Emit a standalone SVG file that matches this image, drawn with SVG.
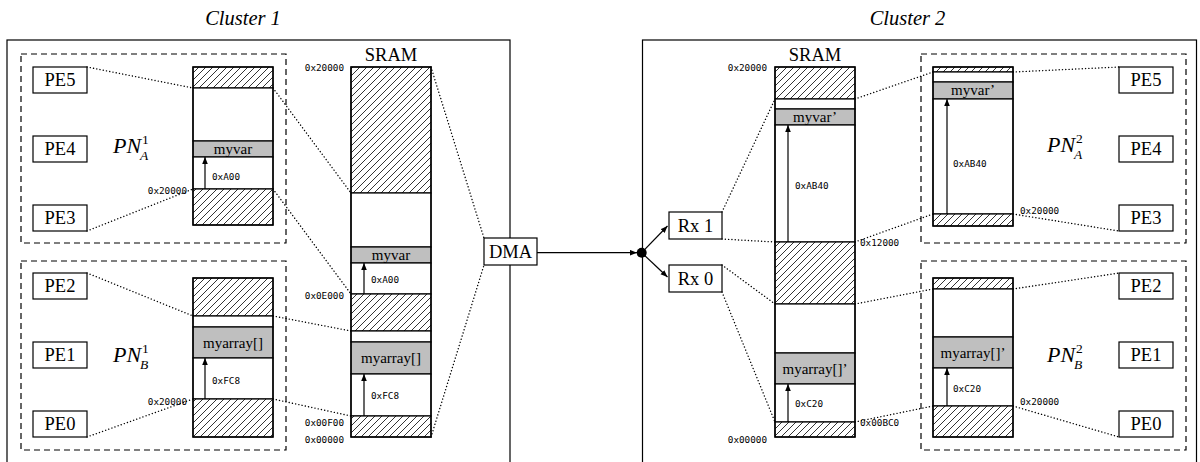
<svg xmlns="http://www.w3.org/2000/svg" width="1200" height="462" viewBox="0 0 1200 462">
<style>
.outer{fill:none;stroke:#000;stroke-width:1.2}
.dash{fill:none;stroke:#000;stroke-width:1.2;stroke-dasharray:6,4}
.box{fill:#fff;stroke:#000;stroke-width:1.2}
.col{fill:none;stroke:#000;stroke-width:1.4}
.hat{fill:url(#hatch);stroke:#000;stroke-width:1.2}
.wht{fill:#fff;stroke:#000;stroke-width:1.2}
.gry{fill:#bfbfbf;stroke:#000;stroke-width:1.2}
.dot{fill:none;stroke:#000;stroke-width:1.4;stroke-dasharray:0.1,3.2;stroke-linecap:round}
.arr{fill:none;stroke:#000;stroke-width:1.2;marker-end:url(#ah)}
.t{font-family:'Liberation Serif','Times New Roman',Times,serif;font-size:18.5px;fill:#000;text-anchor:middle}
.tl{font-family:'Liberation Serif','Times New Roman',Times,serif;font-size:15px;fill:#000;text-anchor:middle}
.ti{font-family:'Liberation Serif','Times New Roman',Times,serif;font-size:20.5px;font-style:italic;fill:#000;text-anchor:middle}
.pn{font-family:'Liberation Serif','Times New Roman',Times,serif;font-size:22px;font-style:italic;fill:#000}
.sb{font-family:'Liberation Serif','Times New Roman',Times,serif;font-size:13.5px;font-style:italic;fill:#000}
.sp{font-family:'Liberation Serif','Times New Roman',Times,serif;font-size:13.5px;fill:#000}
.m{font-family:'DejaVu Sans Mono',monospace;font-size:9.3px;fill:#000}
.r{text-anchor:end}
</style>
<defs>
<pattern id="hatch" patternUnits="userSpaceOnUse" width="7" height="7">
<rect width="7" height="7" fill="#fff"/>
<path d="M-1,1 L1,-1 M0,7 L7,0 M6,8 L8,6" stroke="#000" stroke-width="0.8"/>
</pattern>
<marker id="ah" viewBox="0 0 10 8" refX="10" refY="4" markerWidth="7" markerHeight="6" markerUnits="userSpaceOnUse" orient="auto">
<path d="M0,0 L10,4 L0,8 Z" fill="#000"/>
</marker>
</defs>
<rect width="1200" height="462" fill="#fff"/>

<g id="cluster1">
<rect class="outer" x="7" y="40" width="503" height="440"/>
<text class="ti" x="243" y="25">Cluster 1</text>
</g>
<g id="cluster2">
<rect class="outer" x="642.5" y="40" width="554" height="440"/>
<text class="ti" x="907.5" y="25">Cluster 2</text>
</g>

<g id="connectors">
<line class="dot" x1="87" y1="67" x2="193" y2="88"/>
<line class="dot" x1="87" y1="231" x2="193" y2="189"/>
<line class="dot" x1="87" y1="273" x2="193" y2="316"/>
<line class="dot" x1="87" y1="437" x2="193" y2="399"/>
<line class="dot" x1="273" y1="88" x2="351" y2="193"/>
<line class="dot" x1="273" y1="189" x2="351" y2="294"/>
<line class="dot" x1="273" y1="316" x2="351" y2="331"/>
<line class="dot" x1="273" y1="399" x2="351" y2="416"/>
<line class="dot" x1="431" y1="67" x2="484" y2="238"/>
<line class="dot" x1="431" y1="437" x2="484" y2="265"/>
<line class="dot" x1="722" y1="212" x2="775" y2="99"/>
<line class="dot" x1="722" y1="239" x2="775" y2="242"/>
<line class="dot" x1="722" y1="265" x2="775" y2="304"/>
<line class="dot" x1="722" y1="292" x2="775" y2="422"/>
<line class="dot" x1="855" y1="99" x2="933" y2="72"/>
<line class="dot" x1="855" y1="242" x2="933" y2="214"/>
<line class="dot" x1="855" y1="304" x2="933" y2="289"/>
<line class="dot" x1="855" y1="422" x2="933" y2="406"/>
<line class="dot" x1="1013" y1="72" x2="1119" y2="67"/>
<line class="dot" x1="1013" y1="214" x2="1119" y2="231"/>
<line class="dot" x1="1013" y1="289" x2="1119" y2="273"/>
<line class="dot" x1="1013" y1="406" x2="1119" y2="437"/>
<line class="arr" x1="537" y1="252.7" x2="637" y2="252.7"/>
<line class="arr" x1="641.7" y1="252.7" x2="667.5" y2="226"/>
<line class="arr" x1="641.7" y1="252.7" x2="667.5" y2="277"/>
<circle cx="641.7" cy="252.7" r="5" fill="#000"/>
</g>

<g id="pn-a1">
<rect class="dash" x="21" y="54" width="265" height="189"/>
<text class="pn" x="113" y="153">PN</text>
<text class="sb" x="140" y="160">A</text>
<text class="sp" x="142" y="143.5">1</text>
<rect class="hat" x="193" y="67" width="80" height="21"/>
<rect class="wht" x="193" y="88" width="80" height="53"/>
<rect class="gry" x="193" y="141" width="80" height="16"/>
<rect class="wht" x="193" y="157" width="80" height="32"/>
<rect class="hat" x="193" y="189" width="80" height="36"/>
<rect class="col" x="193" y="67" width="80" height="158"/>
<text class="tl" x="233" y="154">myvar</text>
<line class="arr" x1="205" y1="189" x2="205" y2="157"/>
<text class="m" x="212" y="180">0xA00</text>
<text class="m r" x="187" y="194">0x20000</text>
</g>

<g id="pn-b1">
<rect class="dash" x="21" y="261" width="265" height="189"/>
<text class="pn" x="113" y="362">PN</text>
<text class="sb" x="140" y="369">B</text>
<text class="sp" x="142" y="352.5">1</text>
<rect class="hat" x="193" y="278" width="80" height="38"/>
<rect class="wht" x="193" y="316" width="80" height="11"/>
<rect class="gry" x="193" y="327" width="80" height="31"/>
<rect class="wht" x="193" y="358" width="80" height="41"/>
<rect class="hat" x="193" y="399" width="80" height="38"/>
<rect class="col" x="193" y="278" width="80" height="159"/>
<text class="tl" x="233" y="347.5">myarray[]</text>
<line class="arr" x1="205" y1="399" x2="205" y2="358"/>
<text class="m" x="212" y="383.5">0xFC8</text>
<text class="m r" x="187" y="405">0x20000</text>
</g>

<g id="pe-c1">
<rect class="box" x="33" y="67" width="54" height="26"/><text class="t" x="60" y="86">PE5</text>
<rect class="box" x="33" y="136" width="54" height="26"/><text class="t" x="60" y="155">PE4</text>
<rect class="box" x="33" y="205" width="54" height="26"/><text class="t" x="60" y="224">PE3</text>
<rect class="box" x="33" y="273" width="54" height="26"/><text class="t" x="60" y="292">PE2</text>
<rect class="box" x="33" y="342" width="54" height="26"/><text class="t" x="60" y="361">PE1</text>
<rect class="box" x="33" y="411" width="54" height="26"/><text class="t" x="60" y="430">PE0</text>
</g>

<g id="sram1">
<text class="t" x="391" y="61">SRAM</text>
<rect class="hat" x="351" y="67" width="80" height="126"/>
<rect class="wht" x="351" y="193" width="80" height="54"/>
<rect class="gry" x="351" y="247" width="80" height="16"/>
<rect class="wht" x="351" y="263" width="80" height="31"/>
<rect class="hat" x="351" y="294" width="80" height="37"/>
<rect class="wht" x="351" y="331" width="80" height="11"/>
<rect class="gry" x="351" y="342" width="80" height="32"/>
<rect class="wht" x="351" y="374" width="80" height="42"/>
<rect class="hat" x="351" y="416" width="80" height="21"/>
<rect class="col" x="351" y="67" width="80" height="370"/>
<text class="tl" x="391" y="260">myvar</text>
<text class="tl" x="391" y="363">myarray[]</text>
<line class="arr" x1="364" y1="294" x2="364" y2="263"/>
<line class="arr" x1="364" y1="416" x2="364" y2="374"/>
<text class="m" x="371" y="282.7">0xA00</text>
<text class="m" x="371" y="399">0xFC8</text>
<text class="m r" x="344" y="71">0x20000</text>
<text class="m r" x="344" y="299">0x0E000</text>
<text class="m r" x="344" y="426">0x00F00</text>
<text class="m r" x="344" y="442.5">0x00000</text>
</g>

<g id="dma">
<rect class="box" x="484" y="238" width="53" height="27"/>
<text class="t" x="510.5" y="258">DMA</text>
</g>

<g id="rx1">
<rect class="box" x="669" y="212" width="53" height="27"/>
<text class="t" x="695.5" y="232">Rx 1</text>
</g>
<g id="rx0">
<rect class="box" x="669" y="265" width="53" height="27"/>
<text class="t" x="695.5" y="285">Rx 0</text>
</g>

<g id="sram2">
<text class="t" x="815" y="61">SRAM</text>
<rect class="hat" x="775" y="67" width="80" height="32"/>
<rect class="wht" x="775" y="99" width="80" height="10"/>
<rect class="gry" x="775" y="109" width="80" height="16"/>
<rect class="wht" x="775" y="125" width="80" height="117"/>
<rect class="hat" x="775" y="242" width="80" height="62"/>
<rect class="wht" x="775" y="304" width="80" height="49"/>
<rect class="gry" x="775" y="353" width="80" height="31"/>
<rect class="wht" x="775" y="384" width="80" height="38"/>
<rect class="hat" x="775" y="422" width="80" height="15"/>
<rect class="col" x="775" y="67" width="80" height="370"/>
<text class="tl" x="815" y="122">myvar’</text>
<text class="tl" x="815" y="373.5">myarray[]’</text>
<line class="arr" x1="788" y1="242" x2="788" y2="125"/>
<line class="arr" x1="788" y1="422" x2="788" y2="384"/>
<text class="m" x="795" y="188.5">0xAB40</text>
<text class="m" x="795" y="406.5">0xC20</text>
<text class="m r" x="767" y="71">0x20000</text>
<text class="m" x="860" y="245.5">0x12000</text>
<text class="m" x="860" y="425.5">0x00BC0</text>
<text class="m r" x="767" y="442.5">0x00000</text>
</g>

<g id="pn-a2">
<rect class="dash" x="921" y="54" width="265" height="189"/>
<text class="pn" x="1047" y="152">PN</text>
<text class="sb" x="1074" y="159">A</text>
<text class="sp" x="1076" y="142.5">2</text>
<rect class="hat" x="933" y="67" width="80" height="5"/>
<rect class="wht" x="933" y="72" width="80" height="10"/>
<rect class="gry" x="933" y="82" width="80" height="17"/>
<rect class="wht" x="933" y="99" width="80" height="115"/>
<rect class="hat" x="933" y="214" width="80" height="12"/>
<rect class="col" x="933" y="67" width="80" height="159"/>
<text class="tl" x="973" y="95">myvar’</text>
<line class="arr" x1="947" y1="214" x2="947" y2="99"/>
<text class="m" x="953" y="166.8">0xAB40</text>
<text class="m" x="1020" y="213.5">0x20000</text>
</g>

<g id="pn-b2">
<rect class="dash" x="921" y="261" width="265" height="189"/>
<text class="pn" x="1047" y="362">PN</text>
<text class="sb" x="1074" y="369">B</text>
<text class="sp" x="1076" y="352.5">2</text>
<rect class="hat" x="933" y="278" width="80" height="11"/>
<rect class="wht" x="933" y="289" width="80" height="48"/>
<rect class="gry" x="933" y="337" width="80" height="31"/>
<rect class="wht" x="933" y="368" width="80" height="38"/>
<rect class="hat" x="933" y="406" width="80" height="31"/>
<rect class="col" x="933" y="278" width="80" height="159"/>
<text class="tl" x="973" y="358">myarray[]’</text>
<line class="arr" x1="947" y1="406" x2="947" y2="368"/>
<text class="m" x="953" y="391.5">0xC20</text>
<text class="m" x="1020" y="405">0x20000</text>
</g>

<g id="pe-c2">
<rect class="box" x="1119" y="67" width="54" height="26"/><text class="t" x="1146" y="86">PE5</text>
<rect class="box" x="1119" y="136" width="54" height="26"/><text class="t" x="1146" y="155">PE4</text>
<rect class="box" x="1119" y="205" width="54" height="26"/><text class="t" x="1146" y="224">PE3</text>
<rect class="box" x="1119" y="273" width="54" height="26"/><text class="t" x="1146" y="292">PE2</text>
<rect class="box" x="1119" y="342" width="54" height="26"/><text class="t" x="1146" y="361">PE1</text>
<rect class="box" x="1119" y="411" width="54" height="26"/><text class="t" x="1146" y="430">PE0</text>
</g>
</svg>
